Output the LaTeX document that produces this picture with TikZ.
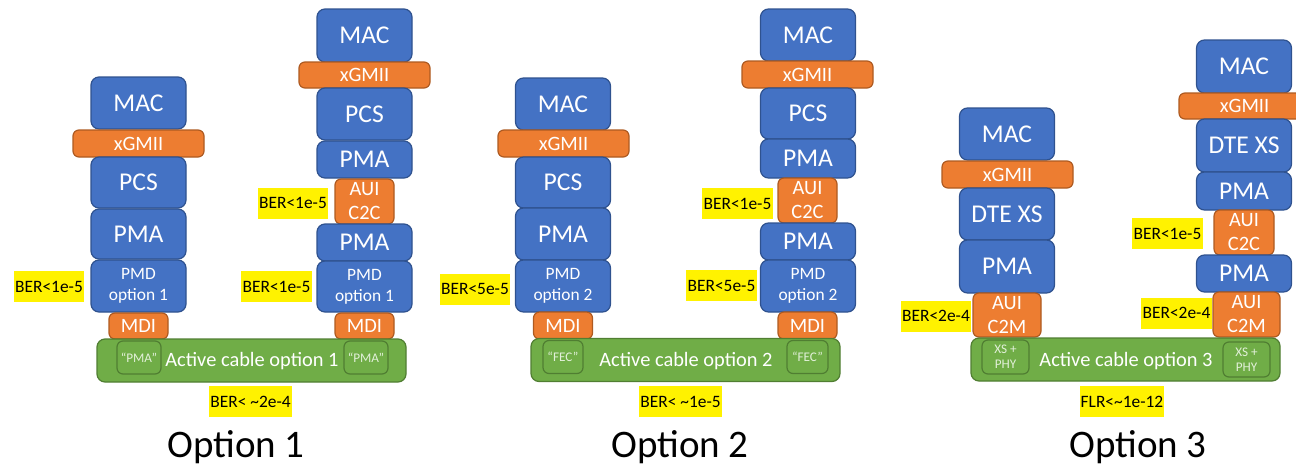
\documentclass[tikz,border=0pt]{standalone}
\usepackage{fontspec}
\setmainfont{Carlito}
\definecolor{blu}{HTML}{4472C4}
\definecolor{bluline}{HTML}{2F528F}
\definecolor{org}{HTML}{ED7D31}
\definecolor{orgline}{HTML}{AE5A21}
\definecolor{grn}{HTML}{70AD47}
\definecolor{grnline}{HTML}{507E32}
\definecolor{grntxt}{HTML}{E2F0D9}

\begin{document}
\begin{tikzpicture}[x=0.5pt,y=-0.5pt,
  lyr/.style={draw=bluline,fill=blu,text=white,rounded corners=4pt,line width=0.6pt,inner sep=0pt,minimum width=47.5pt,font=\fontsize{12.8}{13}\selectfont},
  pmd/.style={lyr,align=center,font=\fontsize{8.7}{10.5}\selectfont},
  gmii/.style={draw=orgline,fill=org,text=white,rounded corners=3pt,line width=0.6pt,inner sep=0pt,minimum width=65.5pt,minimum height=13.5pt,font=\fontsize{10.2}{12}\selectfont},
  aui/.style={gmii,align=center,minimum width=29.5pt},
  cable/.style={draw=grnline,fill=grn,rounded corners=4pt,line width=0.6pt,inner sep=0pt,minimum width=154.5pt,minimum height=21.5pt},
  inbox/.style={draw=grnline,fill=grn,text=grntxt,rounded corners=3pt,line width=0.6pt,inner sep=0pt,minimum width=22pt,minimum height=16.5pt,align=center,font=\fontsize{6.6}{7.3}\selectfont},
  cabtxt/.style={text=white,inner sep=0pt,font=\fontsize{10.2}{12}\selectfont},
  ber/.style={fill=yellow,inner xsep=0.6pt,inner ysep=0pt,minimum height=15.5pt,font=\fontsize{8.7}{10}\selectfont},
  ttl/.style={anchor=base,inner sep=0pt,font=\fontsize{19.5}{22}\selectfont}]
\useasboundingbox (0,0) rectangle (1296,466);

% option 1, left stack
\node[lyr,minimum height=26pt] (mac1a) at (138.5,103) {MAC};
\node[gmii] (xg1a) at (138.5,143.5) {xGMII};
\node[lyr,minimum height=25.5pt] (pcs1a) at (138.5,182.5) {PCS};
\node[lyr,minimum height=25pt] (pma1a) at (138.5,234) {PMA};
\node[pmd,minimum height=26pt] (pmd1a) at (138.5,286) {PMD\\option 1};
\node[aui,minimum height=13pt] (mdi1a) at (138.5,326) {MDI};
% option 1, right stack
\node[lyr,minimum height=26.5pt] (mac1b) at (364.5,35.5) {MAC};
\node[gmii,minimum height=13pt] (xg1b) at (364.5,75) {xGMII};
\node[lyr,minimum height=26pt] (pcs1b) at (364.5,114) {PCS};
\node[lyr,minimum height=18.5pt] (pma1b) at (364.5,159.5) {PMA};
\node[aui,minimum height=22.5pt] (aui1b) at (364.5,201.5) {AUI\\C2C};
\node[lyr,minimum height=18.5pt] (phy1b) at (364.5,242.5) {PMA};
\node[pmd,minimum height=25.5pt] (pmd1b) at (364.5,286.5) {PMD\\option 1};
\node[aui,minimum height=13pt] (mdi1b) at (364.5,326) {MDI};
% option 1, cable
\node[cable] (cab1) at (251.5,360.5) {};
\node[inbox] (in1a) at (139,357.5) {“PMA”};
\node[inbox] (in1b) at (366,357.5) {“PMA”};
\node[cabtxt] (lab1) at (252,361) {Active cable option 1};
\node[ber] (b1a) at (49,286.5) {BER<1e-5};
\node[ber] (b1b) at (276.5,286.5) {BER<1e-5};
\node[ber] (b1c) at (293,203) {BER<1e-5};
\node[ber] (b1d) at (250.5,401.5) {BER< \textasciitilde2e-4};
\node[ttl] (opt1) at (236,457) {Option 1};

% option 2, left stack
\node[lyr,minimum height=26pt] (mac2a) at (563,104) {MAC};
\node[gmii] (xg2a) at (563.5,143.5) {xGMII};
\node[lyr,minimum height=25.5pt] (pcs2a) at (563,182.5) {PCS};
\node[lyr,minimum height=26pt] (pma2a) at (563,234) {PMA};
\node[pmd,minimum height=26pt] (pmd2a) at (563,286) {PMD\\option 2};
\node[aui,minimum height=13.5pt] (mdi2a) at (563,325.5) {MDI};
% option 2, right stack
\node[lyr,minimum height=26pt] (mac2b) at (808,35) {MAC};
\node[gmii] (xg2b) at (807.5,74.5) {xGMII};
\node[lyr,minimum height=25.5pt] (pcs2b) at (808,113.5) {PCS};
\node[lyr,minimum height=19.5pt] (pma2b) at (808,158.5) {PMA};
\node[aui,minimum height=22.5pt] (aui2b) at (807.5,200.5) {AUI\\C2C};
\node[lyr,minimum height=18.5pt] (phy2b) at (808,241.5) {PMA};
\node[pmd,minimum height=26pt] (pmd2b) at (808,286) {PMD\\option 2};
\node[aui,minimum height=13.5pt] (mdi2b) at (807.5,325.5) {MDI};
% option 2, cable
\node[cable] (cab2) at (685.5,360) {};
\node[inbox,minimum width=20pt] (in2a) at (563,357) {“FEC”};
\node[inbox,minimum width=20.5pt] (in2b) at (807.5,357) {“FEC”};
\node[cabtxt] (lab2) at (686,361) {Active cable option 2};
\node[ber] (b2a) at (475,289) {BER<5e-5};
\node[ber] (b2b) at (721.5,285.5) {BER<5e-5};
\node[ber] (b2c) at (737.5,203.5) {BER<1e-5};
\node[ber] (b2d) at (680.5,401.5) {BER< \textasciitilde1e-5};
\node[ttl] (opt2) at (680,457) {Option 2};

% option 3, left stack
\node[lyr,minimum height=26pt] (mac3a) at (1007,134) {MAC};
\node[gmii] (xg3a) at (1007.5,174.5) {xGMII};
\node[lyr,minimum height=26pt] (dte3a) at (1007,214) {DTE XS};
\node[lyr,minimum height=26.5pt] (pma3a) at (1007,266.5) {PMA};
\node[aui,minimum width=34pt,minimum height=22pt] (aui3a) at (1007,315) {AUI\\C2M};
% option 3, right stack
\node[lyr,minimum height=26.5pt] (mac3b) at (1244,66.5) {MAC};
\node[gmii,minimum height=13pt] (xg3b) at (1244.5,106) {xGMII};
\node[lyr,minimum height=26.5pt] (dte3b) at (1244,145.5) {DTE XS};
\node[lyr,minimum height=19pt] (pma3b) at (1244,191) {PMA};
\node[aui,minimum width=30pt,minimum height=22.5pt] (aui3b) at (1244,232.5) {AUI\\C2C};
\node[lyr,minimum height=18.5pt] (phy3b) at (1244,273.5) {PMA};
\node[aui,minimum width=33.5pt,minimum height=22.5pt] (aui3c) at (1246.5,314.5) {AUI\\C2M};
% option 3, cable
\node[cable] (cab3) at (1125.5,359.5) {};
\node[inbox,minimum width=23.5pt,minimum height=17pt] (in3a) at (1005.5,357) {XS +\\PHY};
\node[inbox,minimum width=23.5pt,minimum height=17.5pt] (in3b) at (1246.5,359.5) {XS +\\PHY};
\node[cabtxt] (lab3) at (1126,361) {Active cable option 3};
\node[ber] (b3a) at (936,316) {BER<2e-4};
\node[ber] (b3b) at (1176.5,313) {BER<2e-4};
\node[ber] (b3c) at (1167.5,233.5) {BER<1e-5};
\node[ber] (b3d) at (1122,401.5) {FLR<\textasciitilde1e-12};
\node[ttl] (opt3) at (1138,457) {Option 3};
\end{tikzpicture}
\end{document}
